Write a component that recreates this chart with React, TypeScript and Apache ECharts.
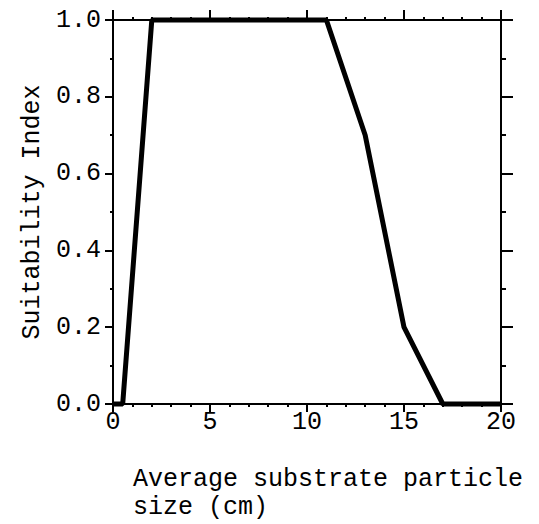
import React, { useEffect, useRef } from "react";
import * as echarts from "echarts";

const sizeCm = [0, 0.5, 2, 11, 13, 15, 17, 20];
const suitability = [0, 0, 1, 1, 0.7, 0.2, 0, 0];
const yTitle = "Suitability Index";
const xTitleLines = ["Average substrate particle", "size (cm)"];

const FONT = "Liberation Mono";

export default function App() {
  const ref = useRef<HTMLDivElement>(null);
  useEffect(() => {
    const chart = echarts.init(ref.current!, null, { renderer: "svg" });
    const axisLine = () => ({ show: true, onZero: false, lineStyle: { color: "#000", width: 2, type: "solid" } });
    const tick = (len: number) => ({ show: true, inside: false, length: len, lineStyle: { color: "#000", width: 2, type: "solid" } });
    const minor = (n: number, len: number) => ({ show: true, splitNumber: n, length: len, lineStyle: { color: "#000", width: 2, type: "solid" } });
    chart.setOption({
      animation: false,
      backgroundColor: "#fff",
      grid: { left: 113, right: 38, top: 20, bottom: 120, containLabel: false },
      xAxis: [
        {
          type: "value", min: 0, max: 20, interval: 5, position: "bottom",
          axisLine: axisLine(), axisTick: tick(8), minorTick: minor(5, 3), splitLine: { show: false },
          axisLabel: { color: "#000", fontFamily: FONT, fontSize: 25, margin: 6 },
        },
        {
          type: "value", min: 0, max: 20, interval: 5, position: "top",
          axisLine: axisLine(), axisTick: tick(10), minorTick: minor(5, 3), splitLine: { show: false },
          axisLabel: { show: false },
        },
      ],
      yAxis: [
        {
          type: "value", min: 0, max: 1, interval: 0.2, position: "left",
          axisLine: axisLine(), axisTick: tick(8), minorTick: minor(2, 3), splitLine: { show: false },
          axisLabel: { color: "#000", fontFamily: FONT, fontSize: 25, margin: 12, formatter: (v: number) => v.toFixed(1) },
          name: yTitle, nameLocation: "middle", nameGap: 68, nameRotate: 90,
          nameTextStyle: { color: "#000", fontFamily: FONT, fontSize: 25 },
        },
        {
          type: "value", min: 0, max: 1, interval: 0.2, position: "right",
          axisLine: axisLine(), axisTick: tick(12), minorTick: minor(2, 5), splitLine: { show: false },
          axisLabel: { show: false },
        },
      ],
      graphic: [
        {
          type: "text", left: 133, top: 465,
          style: { text: xTitleLines.join("\n"), font: `25px "${FONT}"`, fill: "#000", lineHeight: 28 },
        },
      ],
      series: [
        {
          type: "line",
          data: sizeCm.map((x, i) => [x, suitability[i]]),
          showSymbol: false,
          lineStyle: { color: "#000", width: 5 },
          clip: false,
        },
      ],
    });
    return () => chart.dispose();
  }, []);
  return <div ref={ref} style={{ width: 539, height: 524, position: "absolute", left: 0, top: 0 }} />;
}
